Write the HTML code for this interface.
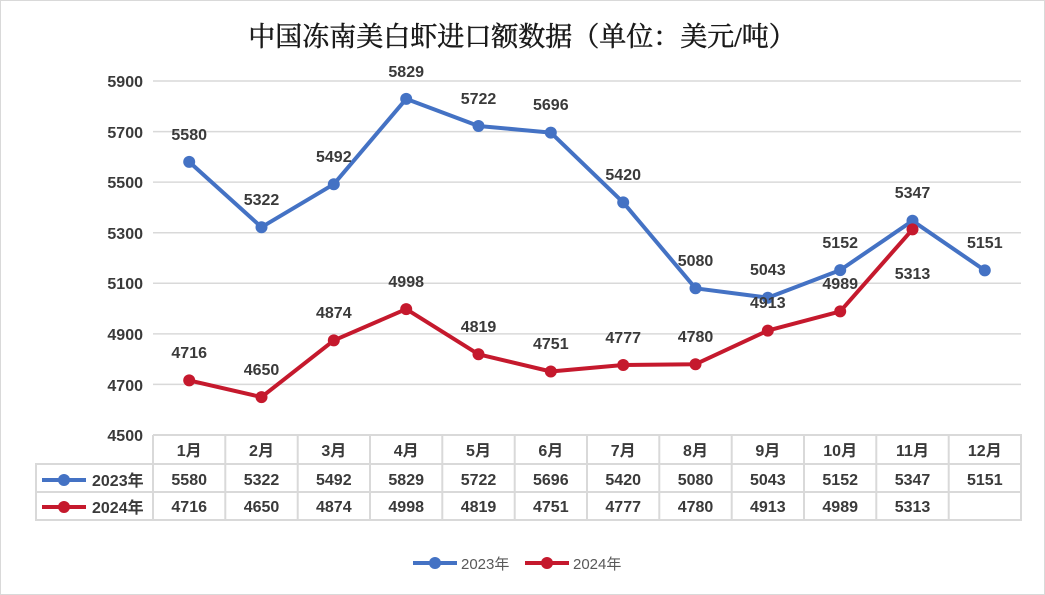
<!DOCTYPE html>
<html><head><meta charset="utf-8"><style>
html,body{margin:0;padding:0;background:#fff}
svg{display:block}
.t{font-family:"Liberation Sans","Noto Sans CJK SC",sans-serif;font-weight:bold;font-size:16px;fill:#3a3a3a}
.l{font-family:"Liberation Sans","Noto Sans CJK SC",sans-serif;font-size:15px;fill:#595959}
</style></head><body>
<svg width="1045" height="595" viewBox="0 0 1045 595" xmlns="http://www.w3.org/2000/svg">
<rect x="0.5" y="0.5" width="1044" height="594" fill="#fff" stroke="#d9d9d9"/>
<text x="522" y="46" text-anchor="middle" font-family="'Liberation Serif','Noto Serif CJK SC',serif" font-size="27" fill="#1a1a1a" stroke="#1a1a1a" stroke-width="0.5">中国冻南美白虾进口额数据（单位：美元/吨）</text>
<g stroke="#d9d9d9" stroke-width="1.5">
<line x1="153" y1="81" x2="1021" y2="81"/>
<line x1="153" y1="131.6" x2="1021" y2="131.6"/>
<line x1="153" y1="182.1" x2="1021" y2="182.1"/>
<line x1="153" y1="232.7" x2="1021" y2="232.7"/>
<line x1="153" y1="283.3" x2="1021" y2="283.3"/>
<line x1="153" y1="333.9" x2="1021" y2="333.9"/>
<line x1="153" y1="384.4" x2="1021" y2="384.4"/>
</g>
<g class="t" text-anchor="end">
<text x="143" y="87">5900</text><text x="143" y="138">5700</text><text x="143" y="188">5500</text><text x="143" y="239">5300</text><text x="143" y="289">5100</text><text x="143" y="340">4900</text><text x="143" y="391">4700</text><text x="143" y="441">4500</text>
</g>
<g stroke="#d9d9d9" stroke-width="2" fill="none">
<polyline points="153,435 1021,435 1021,520 36,520 36,464 1021,464"/>
<line x1="36" y1="492" x2="1021" y2="492"/>
<line x1="153" y1="435" x2="153" y2="520"/>
<line x1="225.3" y1="435" x2="225.3" y2="520"/><line x1="297.7" y1="435" x2="297.7" y2="520"/><line x1="370" y1="435" x2="370" y2="520"/><line x1="442.3" y1="435" x2="442.3" y2="520"/><line x1="514.7" y1="435" x2="514.7" y2="520"/><line x1="587" y1="435" x2="587" y2="520"/><line x1="659.3" y1="435" x2="659.3" y2="520"/><line x1="731.7" y1="435" x2="731.7" y2="520"/><line x1="804" y1="435" x2="804" y2="520"/><line x1="876.3" y1="435" x2="876.3" y2="520"/><line x1="948.7" y1="435" x2="948.7" y2="520"/>
</g>
<g class="t" text-anchor="middle">
<text x="189.2" y="456">1月</text><text x="261.5" y="456">2月</text><text x="333.8" y="456">3月</text><text x="406.2" y="456">4月</text><text x="478.5" y="456">5月</text><text x="550.8" y="456">6月</text><text x="623.2" y="456">7月</text><text x="695.5" y="456">8月</text><text x="767.8" y="456">9月</text><text x="840.2" y="456">10月</text><text x="912.5" y="456">11月</text><text x="984.8" y="456">12月</text>
<text x="189.2" y="485">5580</text><text x="261.5" y="485">5322</text><text x="333.8" y="485">5492</text><text x="406.2" y="485">5829</text><text x="478.5" y="485">5722</text><text x="550.8" y="485">5696</text><text x="623.2" y="485">5420</text><text x="695.5" y="485">5080</text><text x="767.8" y="485">5043</text><text x="840.2" y="485">5152</text><text x="912.5" y="485">5347</text><text x="984.8" y="485">5151</text>
<text x="189.2" y="512">4716</text><text x="261.5" y="512">4650</text><text x="333.8" y="512">4874</text><text x="406.2" y="512">4998</text><text x="478.5" y="512">4819</text><text x="550.8" y="512">4751</text><text x="623.2" y="512">4777</text><text x="695.5" y="512">4780</text><text x="767.8" y="512">4913</text><text x="840.2" y="512">4989</text><text x="912.5" y="512">5313</text>
</g>
<line x1="42" y1="480" x2="86" y2="480" stroke="#4472c4" stroke-width="4"/><circle cx="64" cy="480" r="6" fill="#4472c4"/>
<line x1="42" y1="507" x2="86" y2="507" stroke="#c5192d" stroke-width="4"/><circle cx="64" cy="507" r="6" fill="#c5192d"/>
<text class="t" x="92" y="486">2023年</text><text class="t" x="92" y="513">2024年</text>
<polyline fill="none" stroke="#4472c4" stroke-width="4" stroke-linejoin="round" points="189.2,161.9 261.5,227.2 333.8,184.2 406.2,98.9 478.5,126 550.8,132.6 623.2,202.4 695.5,288.3 767.8,297.7 840.2,270.1 912.5,220.8 984.8,270.4"/>
<polyline fill="none" stroke="#c5192d" stroke-width="4" stroke-linejoin="round" points="189.2,380.4 261.5,397.1 333.8,340.4 406.2,309.1 478.5,354.3 550.8,371.5 623.2,365 695.5,364.2 767.8,330.6 840.2,311.4 912.5,229.4"/>
<g fill="#4472c4"><circle cx="189.2" cy="161.9" r="6"/><circle cx="261.5" cy="227.2" r="6"/><circle cx="333.8" cy="184.2" r="6"/><circle cx="406.2" cy="98.9" r="6"/><circle cx="478.5" cy="126" r="6"/><circle cx="550.8" cy="132.6" r="6"/><circle cx="623.2" cy="202.4" r="6"/><circle cx="695.5" cy="288.3" r="6"/><circle cx="767.8" cy="297.7" r="6"/><circle cx="840.2" cy="270.1" r="6"/><circle cx="912.5" cy="220.8" r="6"/><circle cx="984.8" cy="270.4" r="6"/></g>
<g fill="#c5192d"><circle cx="189.2" cy="380.4" r="6"/><circle cx="261.5" cy="397.1" r="6"/><circle cx="333.8" cy="340.4" r="6"/><circle cx="406.2" cy="309.1" r="6"/><circle cx="478.5" cy="354.3" r="6"/><circle cx="550.8" cy="371.5" r="6"/><circle cx="623.2" cy="365" r="6"/><circle cx="695.5" cy="364.2" r="6"/><circle cx="767.8" cy="330.6" r="6"/><circle cx="840.2" cy="311.4" r="6"/><circle cx="912.5" cy="229.4" r="6"/></g>
<g class="t" text-anchor="middle">
<text x="189.2" y="140">5580</text><text x="261.5" y="205">5322</text><text x="333.8" y="162">5492</text><text x="406.2" y="77">5829</text><text x="478.5" y="104">5722</text><text x="550.8" y="110">5696</text><text x="623.2" y="180">5420</text><text x="695.5" y="266">5080</text><text x="767.8" y="275">5043</text><text x="840.2" y="248">5152</text><text x="912.5" y="198">5347</text><text x="984.8" y="248">5151</text>
<text x="189.2" y="358">4716</text><text x="261.5" y="375">4650</text><text x="333.8" y="318">4874</text><text x="406.2" y="287">4998</text><text x="478.5" y="332">4819</text><text x="550.8" y="349">4751</text><text x="623.2" y="343">4777</text><text x="695.5" y="342">4780</text><text x="767.8" y="308">4913</text><text x="840.2" y="289">4989</text><text x="912.5" y="279">5313</text>
</g>
<line x1="413" y1="563" x2="457" y2="563" stroke="#4472c4" stroke-width="4"/><circle cx="435" cy="563" r="6" fill="#4472c4"/>
<text class="l" x="461" y="569">2023年</text>
<line x1="525" y1="563" x2="569" y2="563" stroke="#c5192d" stroke-width="4"/><circle cx="547" cy="563" r="6" fill="#c5192d"/>
<text class="l" x="573" y="569">2024年</text>
</svg>
</body></html>
